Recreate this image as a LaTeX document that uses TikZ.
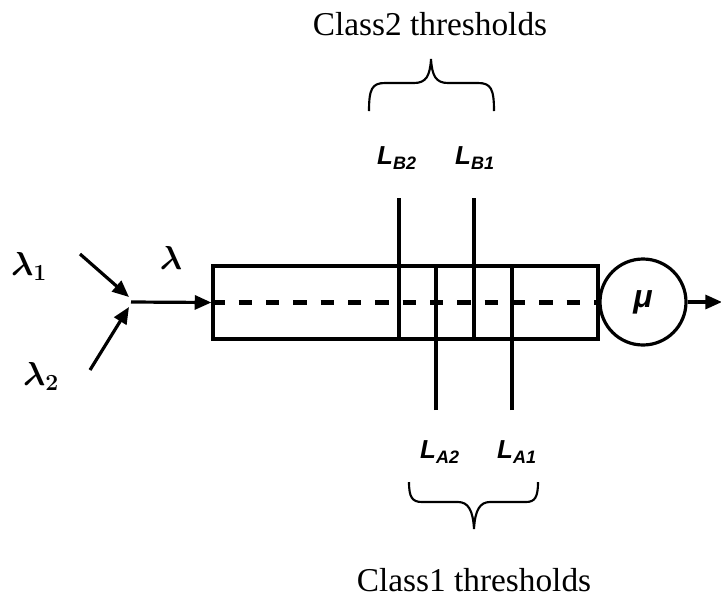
\documentclass[tikz,border=0pt]{standalone}
\usepackage{fontspec}
\setmainfont{Liberation Serif}
\newfontfamily\arialfont{Liberation Sans}
\usetikzlibrary{arrows.meta,positioning}
\tikzset{
  buf/.style={rectangle,draw=black,line width=2.4pt,minimum width=288.75pt,minimum height=54.75pt,inner sep=0pt},
  srv/.style={circle,draw=black,line width=2.4pt,minimum size=64.5pt,inner sep=0pt,font=\arialfont\bfseries\itshape\fontsize{24}{26}\selectfont},
  arr/.style={-{Triangle[length=12.5pt,width=10.5pt]},line width=2.4pt},
  thr/.style={line width=2.4pt},
  mid/.style={line width=3.2pt,dash pattern=on 10pt off 10.5pt},
  brc/.style={line width=1.6pt},
  lb/.style={font=\arialfont\bfseries\itshape\fontsize{19.5}{21}\selectfont},
  gr/.style={font=\boldmath\fontsize{24}{26}\selectfont},
  tb/.style={font=\fontsize{25}{28}\selectfont},
}
\newcommand{\Lsub}[1]{L\textsubscript{\fontsize{13.5}{14}\selectfont #1}}

\begin{document}
\begin{tikzpicture}[x=0.75pt,y=-0.75pt]
\useasboundingbox (0,0) rectangle (721,601);
% the queue and its server
\node[buf] (queue) at (405.5,302.5) {};
\node[srv] (mu) at (643,302) {μ};
\coordinate (join) at (131,302);
\coordinate (tip1) at (129,297);
\coordinate (tip2) at (129,307);
\coordinate (in1) at (80,254);
\coordinate (in2) at (90,370);
\coordinate (out) at (722,302);
\draw[arr] (in1) -- (tip1);
\draw[arr] (in2) -- (tip2);
\draw[arr] (join) -- (queue.west);
\draw[mid] (queue.west) -- (queue.east);
\draw[arr] (mu.east) -- (out);
\node[gr] (lam1) at (29,266) {$\lambda_1$};
\node[gr] (lam2) at (41,376) {$\lambda_2$};
\node[gr] (lam) at (171,258) {$\lambda$};

% class 2 thresholds, from above
\coordinate (B2) at (399,198);
\coordinate (B1) at (474,198);
\draw[thr] (B2) -- (B2 |- queue.south);
\draw[thr] (B1) -- (B1 |- queue.south);
\node[lb] (LB2) at (397,158) {\Lsub{B2}};
\node[lb] (LB1) at (475,158) {\Lsub{B1}};

% class 1 thresholds, from below
\coordinate (A2) at (436,410);
\coordinate (A1) at (512,410);
\draw[thr] (A2) -- (A2 |- queue.north);
\draw[thr] (A1) -- (A1 |- queue.north);
\node[lb] (LA2) at (440,452) {\Lsub{A2}};
\node[lb] (LA1) at (517,452) {\Lsub{A1}};

% braces
\draw[brc] (369,111) .. controls (369,89) and (372,83) .. (385,83) -- (414,83)
  .. controls (426,83) and (430,76) .. (431,59)
  .. controls (432,76) and (436,83) .. (448,83) -- (478,83)
  .. controls (491,83) and (494,89) .. (494,111);
\draw[brc] (409,482) .. controls (409,497) and (412,502) .. (422,502) -- (458,502)
  .. controls (468,502) and (473,510) .. (474,529)
  .. controls (475,510) and (480,502) .. (490,502) -- (526,502)
  .. controls (535,502) and (538,497) .. (538,482);
\node[tb] (class2) at (430,24) {Class2 thresholds};
\node[tb] (class1) at (474,580) {Class1 thresholds};
\end{tikzpicture}
\end{document}
